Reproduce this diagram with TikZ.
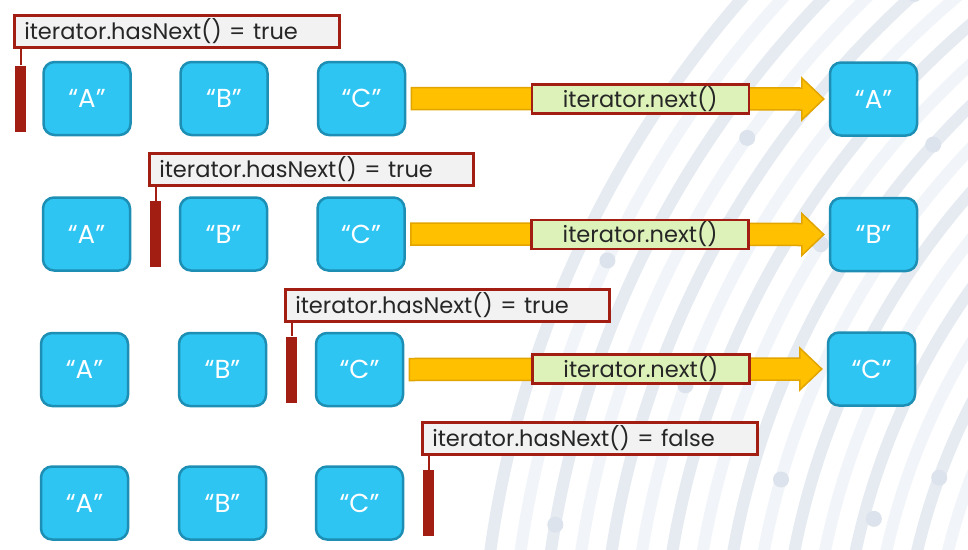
\documentclass[tikz,border=0pt]{standalone}
\usepackage{fontspec}
\setmainfont{Poppins}
\usetikzlibrary{calc}
\definecolor{dred}{HTML}{A21D12}
\definecolor{lgrey}{HTML}{F2F2F2}
\definecolor{tdark}{HTML}{262626}
\definecolor{cyanf}{HTML}{2EC5F3}
\definecolor{cyand}{HTML}{1E8FB4}
\definecolor{yell}{HTML}{FFC000}
\definecolor{yelld}{HTML}{E2A500}
\definecolor{lgreen}{HTML}{DDF2B8}
\definecolor{arcA}{HTML}{E6EBF2}
\definecolor{arcB}{HTML}{F1F4F8}
\definecolor{dotc}{HTML}{DCE3EC}
\begin{document}
\begin{tikzpicture}[x=1pt,y=-1pt,
  lbl/.style={draw=dred, line width=2.5pt, fill=lgrey, text=tdark,
    font=\fontsize{22.5}{26}\selectfont, inner xsep=10pt, inner ysep=0pt,
    minimum height=32pt, align=left, anchor=north west},
  mk/.style={fill=dred, minimum width=11pt, minimum height=66pt, inner sep=0pt},
  conn/.style={draw=dred, line width=2pt},
  elem/.style={rounded corners=11pt, fill=cyanf, draw=cyand, line width=2.5pt,
    minimum width=87pt, minimum height=73pt, text=white,
    font=\fontsize{26}{30}\selectfont, inner sep=0pt},
  yarrow/.style={fill=yell, draw=yelld, line width=1.5pt, line join=miter},
  nxt/.style={draw=dred, line width=2.5pt, fill=lgreen, text=tdark,
    font=\fontsize{22.5}{26}\selectfont, minimum width=217pt, minimum height=29pt, inner sep=0pt}
]
\useasboundingbox (0,0) rectangle (968,549);
\fill[white] (0,0) rectangle (968,549);
% background arcs
\begin{scope}
\clip (0,0) rectangle (968,549);
\coordinate (bgc) at (1550,700);
\foreach \r [count=\i] in {1070,1040,...,590}{
  \pgfmathsetmacro{\cc}{mod(\i,2)==0 ? 1 : 0}
  \ifdim\cc pt>0.5pt
    \draw[arcB, line width=12pt] (bgc) circle[radius=\r];
  \else
    \draw[arcA, line width=12pt] (bgc) circle[radius=\r];
  \fi
}
\foreach \a/\r in {205/1040,215/980,228/950,200/920,236/890,212/860,222/830,196/800,232/770,205/740,218/710,226/680,200/650,240/620,190/1010,210/950,245/860,187/890,195/700,250/740}{
  \fill[dotc] ($(bgc)+(\a:\r)$) circle[radius=8];
}
\end{scope}

% row 1
\node[elem] (a1) at (87,98.5) {“A”};
\node[elem] (b1) at (224,98.5) {“B”};
\node[elem] (c1) at (361.5,98.5) {“C”};
\node[elem] (t1) at (873.5,99) {“A”};
\node[lbl, text width=305pt] (h1) at (13,14) {iterator.hasNext() = true};
\node[mk] (m1) at (20.5,98.5) {};
\draw[conn] (m1.north) -- (m1.north |- h1.south);
\draw[yarrow] ($(c1.east)+(5,-11)$) -- ($(t1.west)+(-27,-11)$) -- ($(t1.west)+(-27,-21)$) -- ($(t1.west)+(-5,0)$) -- ($(t1.west)+(-27,21)$) -- ($(t1.west)+(-27,11)$) -- ($(c1.east)+(5,11)$) -- cycle;
\node[nxt] (n1) at ($(c1.east)!0.554!(t1.west)$) {iterator.next()};

% row 2
\node[elem] (a2) at (86.5,234) {“A”};
\node[elem] (b2) at (223.5,234) {“B”};
\node[elem] (c2) at (361,234) {“C”};
\node[elem] (t2) at (873.5,234.5) {“B”};
\node[lbl, text width=304pt] (h2) at (148,152) {iterator.hasNext() = true};
\node[mk] (m2) at (155.5,234) {};
\draw[conn] (m2.north) -- (m2.north |- h2.south);
\draw[yarrow] ($(c2.east)+(5,-11)$) -- ($(t2.west)+(-27,-11)$) -- ($(t2.west)+(-27,-21)$) -- ($(t2.west)+(-5,0)$) -- ($(t2.west)+(-27,21)$) -- ($(t2.west)+(-27,11)$) -- ($(c2.east)+(5,11)$) -- cycle;
\node[nxt] (n2) at ($(c2.east)!0.554!(t2.west)$) {iterator.next()};

% row 3
\node[elem] (a3) at (84.5,369.5) {“A”};
\node[elem] (b3) at (222.5,369.5) {“B”};
\node[elem] (c3) at (359.5,369.5) {“C”};
\node[elem] (t3) at (871.5,369) {“C”};
\node[lbl, text width=304pt] (h3) at (284,288) {iterator.hasNext() = true};
\node[mk] (m3) at (291.5,369.5) {};
\draw[conn] (m3.north) -- (m3.north |- h3.south);
\draw[yarrow] ($(c3.east)+(5,-11)$) -- ($(t3.west)+(-27,-11)$) -- ($(t3.west)+(-27,-21)$) -- ($(t3.west)+(-5,0)$) -- ($(t3.west)+(-27,21)$) -- ($(t3.west)+(-27,11)$) -- ($(c3.east)+(5,11)$) -- cycle;
\node[nxt] (n3) at ($(c3.east)!0.56!(t3.west)$) {iterator.next()};

% row 4
\node[elem] (a4) at (84.5,503) {“A”};
\node[elem] (b4) at (222.5,503) {“B”};
\node[elem] (c4) at (359.5,503) {“C”};
\node[lbl, text width=315pt] (h4) at (421,421) {iterator.hasNext() = false};
\node[mk] (m4) at (428.5,503) {};
\draw[conn] (m4.north) -- (m4.north |- h4.south);
\end{tikzpicture}
\end{document}
